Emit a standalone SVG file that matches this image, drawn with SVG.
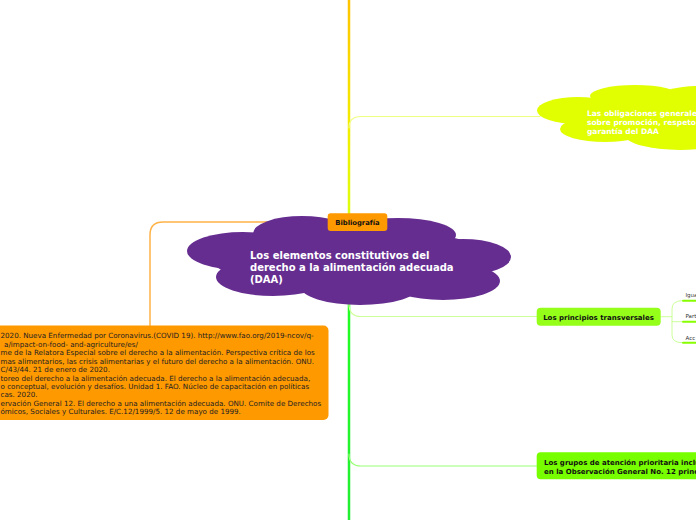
<svg xmlns="http://www.w3.org/2000/svg" width="696" height="520" viewBox="0 0 696 520">
<defs>
<linearGradient id="trunk" gradientUnits="userSpaceOnUse" x1="0" y1="0" x2="0" y2="520">
<stop offset="0" stop-color="#ffc400"/>
<stop offset="0.25" stop-color="#f2ee00"/>
<stop offset="0.42" stop-color="#dcff10"/>
<stop offset="0.56" stop-color="#22ff22"/>
<stop offset="1" stop-color="#22ee33"/>
</linearGradient>
<style>
.c{fill:none;stroke-linecap:round}
.t{font-family:"DejaVu Sans",Verdana,sans-serif}
.b{font-family:"DejaVu Sans",Verdana,sans-serif;font-weight:bold}
.ref{font-size:7.15px;fill:#222}
.sub{font-size:5.5px;fill:#333}
</style>
</defs>
<rect width="696" height="520" fill="#ffffff"/>
<g id="connectors">
<line x1="349" y1="0" x2="349" y2="520" stroke="url(#trunk)" stroke-width="2.5"/>
<path class="c" d="M349,128 Q349,116.5 361,116.5 H540" stroke="#f0ff80" stroke-width="1.2"/>
<path class="c" d="M349,304 Q349,316.5 361,316.5 H538" stroke="#ccff99" stroke-width="1.2"/>
<path class="c" d="M349,454 Q349,466 361,466 H538" stroke="#99ff77" stroke-width="1.2"/>
<path class="c" d="M330,222 H163 Q150,222 150,235 V326" stroke="#ffb347" stroke-width="1.5"/>
<path class="c" d="M661,316.7 H672 M682,300.7 Q672,300.7 672,309 V335 Q672,342.7 682,342.7 M672,321.7 H682" stroke="#ccff99" stroke-width="1"/>
<path class="c" d="M683,300.7 H696 M683,321.7 H696 M683,342.7 H696" stroke="#88ff00" stroke-width="2"/>
</g>
<g id="central">
<g fill="#662d91">
<ellipse cx="350" cy="258" rx="140" ry="30"/>
<ellipse cx="243" cy="251" rx="56" ry="19"/>
<ellipse cx="302" cy="233.5" rx="49" ry="17.5"/>
<ellipse cx="398" cy="235" rx="58" ry="17"/>
<ellipse cx="463" cy="257" rx="48" ry="18"/>
<ellipse cx="443" cy="281" rx="57" ry="19"/>
<ellipse cx="360" cy="286" rx="60" ry="19"/>
<ellipse cx="273" cy="277" rx="57" ry="19"/>
</g>
<text class="b" font-size="10" fill="#ffffff"><tspan x="250" y="259">Los elementos constitutivos del</tspan><tspan x="250" y="271">derecho a la alimentación adecuada</tspan><tspan x="250" y="283">(DAA)</tspan></text>
</g>
<g id="bibliografia">
<rect x="327.7" y="213.3" width="59.6" height="17.7" rx="3" fill="#ff9900"/>
<text class="b" font-size="6.8" fill="#111" x="357.5" y="225" text-anchor="middle">Bibliografía</text>
</g>
<g id="referencias">
<rect x="-10" y="325.5" width="338.5" height="94.5" rx="5" fill="#ff9900"/>
<text class="t ref">
<tspan x="0.5" y="338">2020. Nueva Enfermedad por Coronavirus.(COVID 19). http://www.fao.org/2019-ncov/q-</tspan>
<tspan x="4" y="346.5">a/impact-on-food- and-agriculture/es/</tspan>
<tspan x="0.5" y="355.3">me de la Relatora Especial sobre el derecho a la alimentación. Perspectiva crítica de los</tspan>
<tspan x="0.5" y="363.5">mas alimentarios, las crisis alimentarias y el futuro del derecho a la alimentación. ONU.</tspan>
<tspan x="0.5" y="372">C/43/44. 21 de enero de 2020.</tspan>
<tspan x="0.5" y="380.5">toreo del derecho a la alimentación adecuada. El derecho a la alimentación adecuada,</tspan>
<tspan x="0.5" y="389">o conceptual, evolución y desafíos. Unidad 1. FAO. Núcleo de capacitación en políticas</tspan>
<tspan x="0.5" y="397">cas. 2020.</tspan>
<tspan x="0.5" y="405.5">ervación General 12. El derecho a una alimentación adecuada. ONU. Comite de Derechos</tspan>
<tspan x="0.5" y="413.5">ómicos, Sociales y Culturales. E/C.12/1999/5. 12 de mayo de 1999.</tspan>
</text>
</g>
<g id="obligaciones">
<g fill="#e1ff00">
<ellipse cx="578" cy="110.5" rx="41" ry="13.5"/>
<ellipse cx="635" cy="96" rx="45" ry="11"/>
<ellipse cx="700" cy="100" rx="45" ry="14"/>
<ellipse cx="605" cy="129" rx="45" ry="13"/>
<ellipse cx="680" cy="135" rx="55" ry="15"/>
<rect x="585" y="100" width="120" height="35"/>
</g>
<text class="b" font-size="7.5" fill="#ffffff"><tspan x="587" y="115.5">Las obligaciones generales</tspan><tspan x="587" y="124.5">sobre promoción, respeto,</tspan><tspan x="587" y="134">garantía del DAA</tspan></text>
</g>
<g id="principios">
<rect x="536.7" y="307.7" width="124" height="18" rx="4" fill="#95ff1a"/>
<text class="b" font-size="7" fill="#111" x="598.5" y="319.7" text-anchor="middle">Los principios transversales</text>
</g>
<g id="igualdad"><text class="t sub" x="685.5" y="296.5">Igua</text></g>
<g id="participacion"><text class="t sub" x="685.5" y="317.5">Part</text></g>
<g id="acceso"><text class="t sub" x="685.5" y="339.5">Acc</text></g>
<g id="grupos">
<rect x="536.7" y="452.3" width="170" height="27" rx="4" fill="#77ff00"/>
<text class="b" font-size="7" fill="#111"><tspan x="544" y="465">Los grupos de atención prioritaria inclu</tspan><tspan x="544" y="473.5">en la Observación General No. 12 princ</tspan></text>
</g>
</svg>
